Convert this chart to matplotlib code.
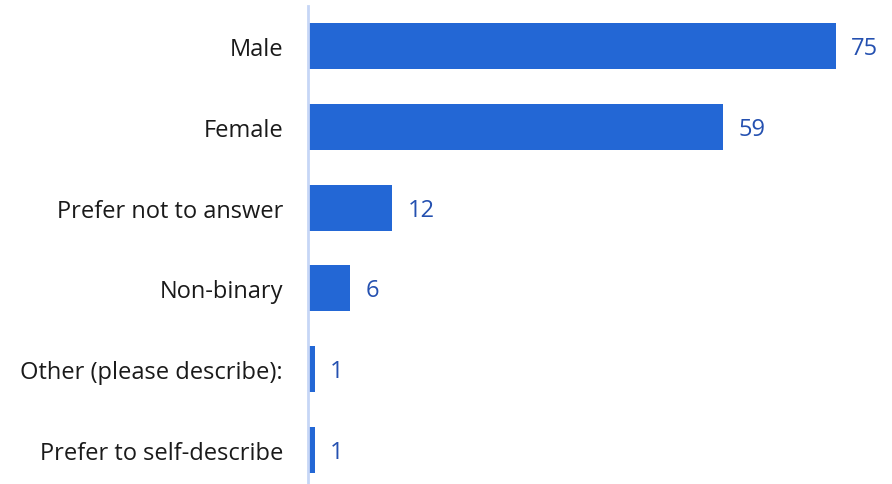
import matplotlib
matplotlib.use("Agg")
import matplotlib.pyplot as plt
from matplotlib.transforms import offset_copy

categories = ["Male", "Female", "Prefer not to answer", "Non-binary",
              "Other (please describe):", "Prefer to self-describe"]
values = [75, 59, 12, 6, 1, 1]

plt.rcParams['font.family'] = ['Open Sans', 'DejaVu Sans']

W, H = 892, 485
fig = plt.figure(figsize=(W / 100, H / 100), dpi=100)
left = 308 / W
right = 880 / W
top_px = 6.6
bot_px = 491.4
ax = fig.add_axes([left, 1 - bot_px / H, right - left, (bot_px - top_px) / H])

y = list(range(len(categories)))
ax.barh(y, values, height=0.57, color="#2367d5", edgecolor="none")
ax.set_xlim(0, 572 / 7.04)
ax.set_ylim(len(categories) - 0.5, -0.5)

ax.set_yticks(y)
ax.set_yticklabels(categories, fontsize=17, color="#1a1a1a")
ax.tick_params(axis="y", length=0, pad=18)
ax.set_xticks([])

for s in ["top", "right", "bottom"]:
    ax.spines[s].set_visible(False)
ax.spines["left"].set_color("#c6d6f6")
ax.spines["left"].set_linewidth(2)

for yi, v in zip(y, values):
    tr = offset_copy(ax.transData, fig=fig, x=15 * 0.72, y=-2 * 0.72, units="points")
    ax.text(v, yi, str(v), transform=tr, va="center", ha="left",
            fontsize=17, color="#2450b0")

fig.savefig("out.png", dpi=100)
